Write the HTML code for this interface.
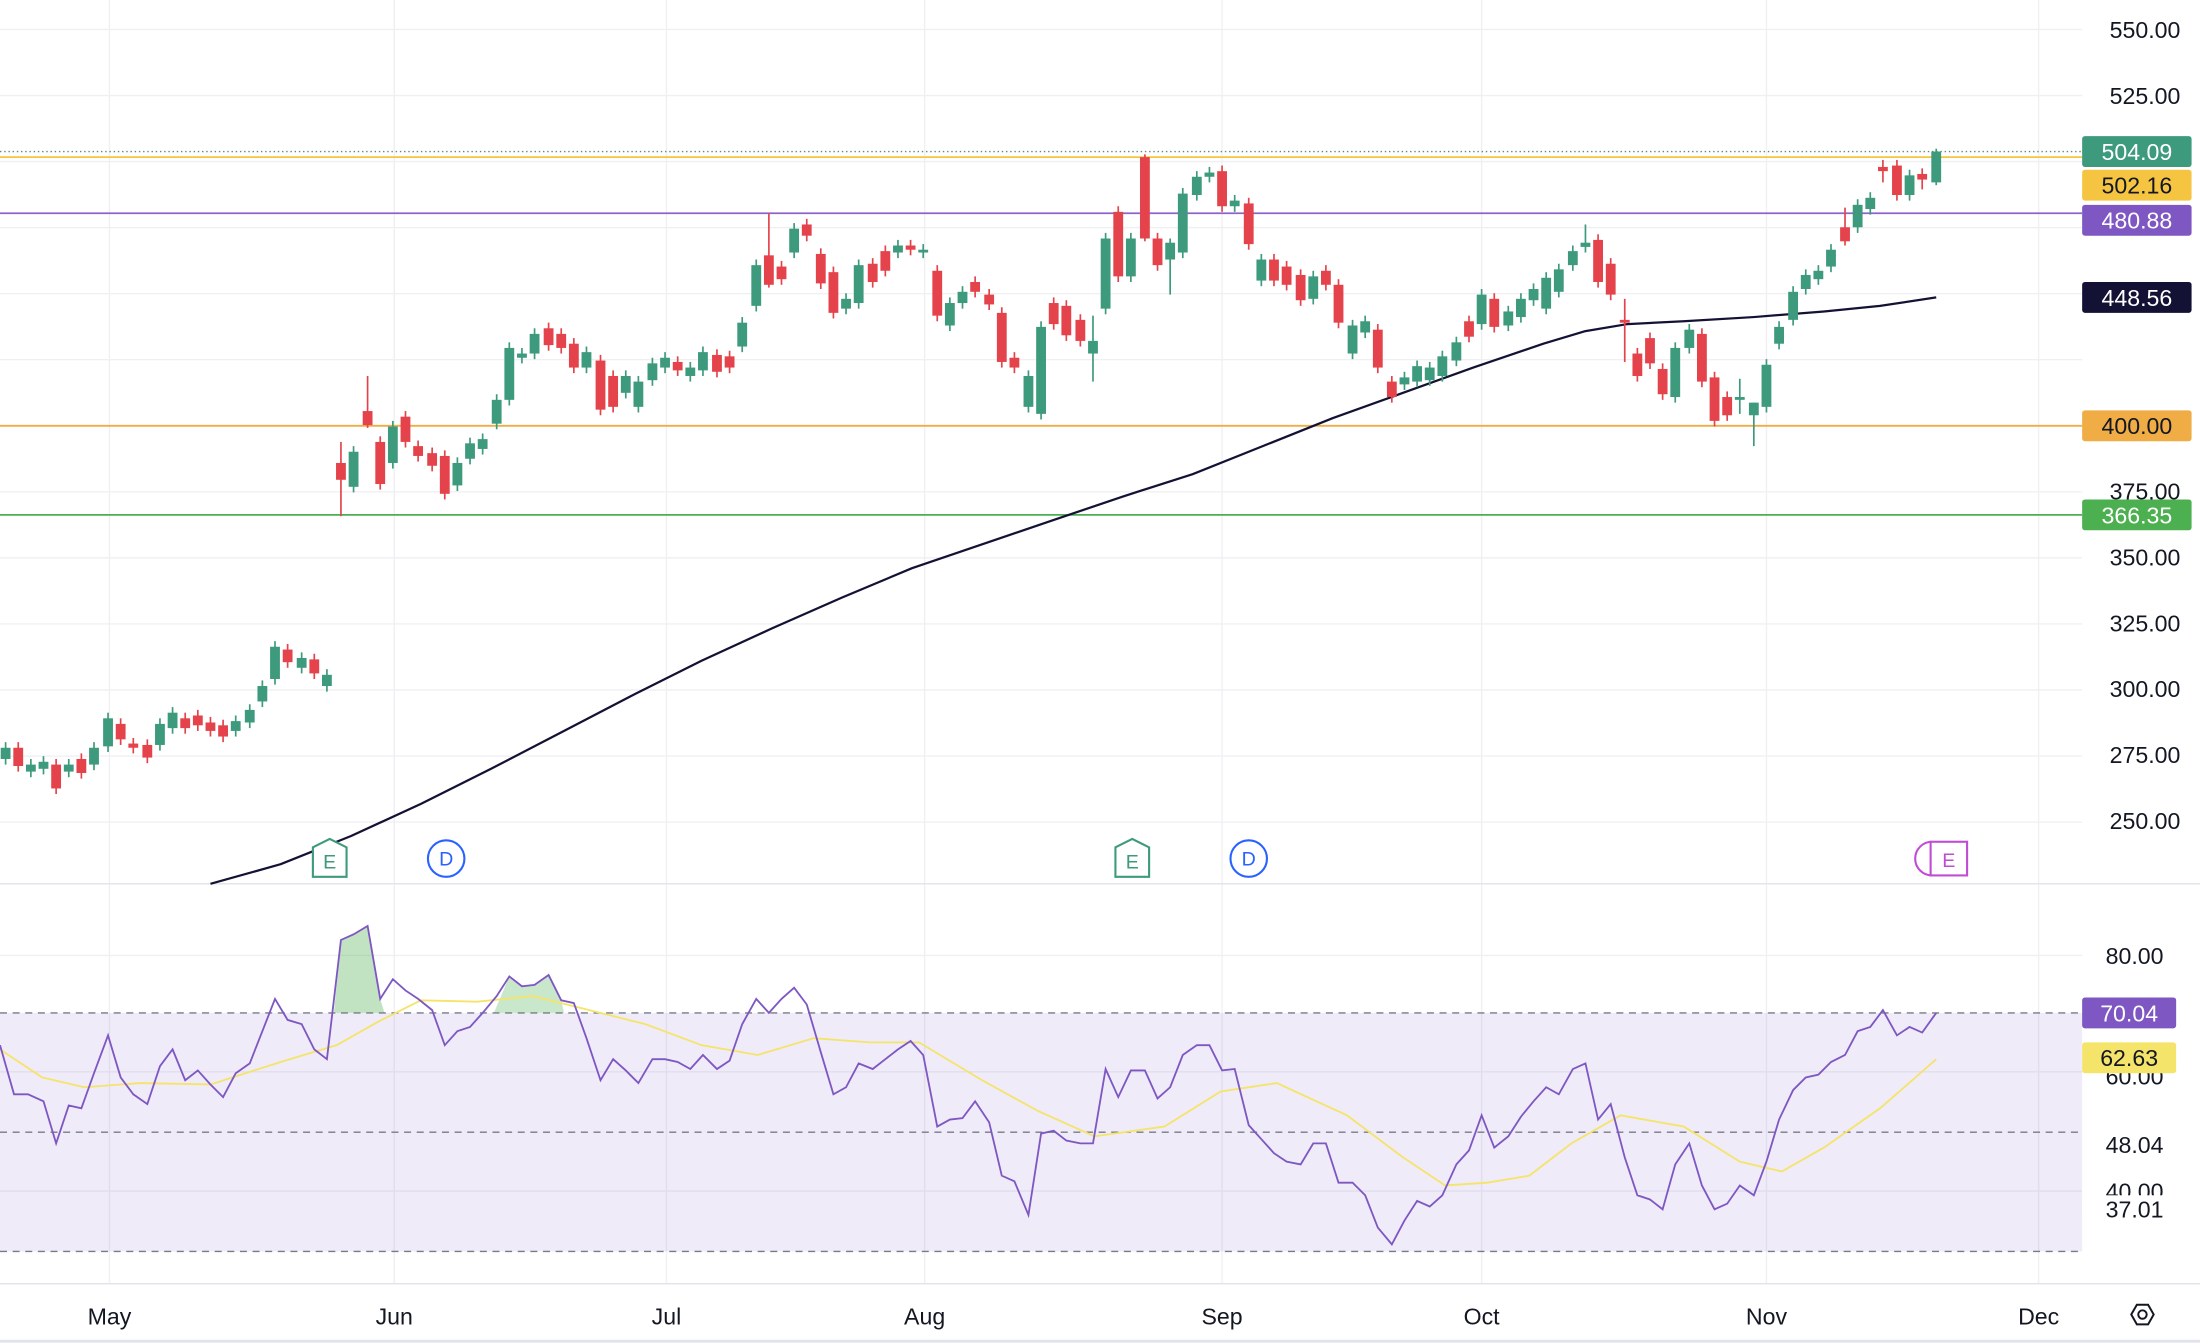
<!DOCTYPE html>
<html><head><meta charset="utf-8"><style>
html,body{margin:0;padding:0;background:#fff;}
svg{display:block;}
text{font-family:"Liberation Sans",sans-serif;}
</style></head><body>
<svg id="s" width="2200" height="1344" viewBox="0 0 1568 958" preserveAspectRatio="none" xmlns="http://www.w3.org/2000/svg">
<rect width="1568" height="958" fill="#fff"/>
<g id="grid" stroke="#f0f0f3" stroke-width="1"></g>
<rect x="0" y="722" width="1484" height="170" fill="#7e57c2" fill-opacity="0.12"/>
<g id="lines"></g>
<g id="candles"></g>
<g id="rsi"></g>
<g id="labels"></g>
</svg>
<script>
const NS="http://www.w3.org/2000/svg";
function el(p,t,a,txt){const e=document.createElementNS(NS,t);for(const k in a)e.setAttribute(k,a[k]);if(txt!==undefined)e.textContent=txt;p.appendChild(e);return e;}
const g=id=>document.getElementById(id);
const yp=p=>21+(550-p)*1.8833;
[78,281,475,659,871,1056,1259,1453].forEach(x=>el(g('grid'),'line',{x1:x,y1:0,x2:x,y2:915}));
for(let p=250;p<=550;p+=25)el(g('grid'),'line',{x1:0,y1:yp(p),x2:1484,y2:yp(p)});
[681,764,849].forEach(y=>el(g('grid'),'line',{x1:0,y1:y,x2:1484,y2:y}));
const L=g('lines');
el(L,'line',{x1:0,y1:630,x2:1568,y2:630,stroke:'#e0e3eb','stroke-width':1});
el(L,'line',{x1:0,y1:915,x2:1568,y2:915,stroke:'#e0e3eb','stroke-width':1});
el(L,'line',{x1:0,y1:956,x2:1568,y2:956,stroke:'#e0e3eb','stroke-width':2});
[722,807,892].forEach(y=>el(L,'line',{x1:0,y1:y,x2:1484,y2:y,stroke:'#787b86','stroke-dasharray':'5,4','stroke-width':1}));
el(L,'line',{x1:0,y1:108,x2:1484,y2:108,stroke:'#5a8a7a','stroke-dasharray':'1,2','stroke-width':1});
el(L,'line',{x1:0,y1:112,x2:1484,y2:112,stroke:'#f5c542','stroke-width':1.3});
el(L,'line',{x1:0,y1:152,x2:1484,y2:152,stroke:'#8e63c9','stroke-width':1.3});
el(L,'line',{x1:0,y1:303.5,x2:1484,y2:303.5,stroke:'#f0ad45','stroke-width':1.3});
el(L,'line',{x1:0,y1:367,x2:1484,y2:367,stroke:'#4caf50','stroke-width':1.3});
const SMA=[[150,630],[200,616],[250,596],[300,573],[350,548],[400,522],[450,496],[500,471],[550,448],[600,426],[650,405],[700,388],[750,371],[800,354],[850,338],[900,318],[950,298],[1000,280],[1050,262],[1100,245],[1130,236],[1160,231],[1200,229],[1250,226],[1300,222],[1340,218],[1380,212]];
el(L,'polyline',{points:SMA.map(p=>p.join(',')).join(' '),fill:'none',stroke:'#131235','stroke-width':1.6,'stroke-linejoin':'round'});
const C=[[4,533,541,'g'],[13,533,546,'r'],[22,545,550,'g'],[31,543,548,'g'],[40,545,562,'r'],[49,545,550,'g'],[58,541,551,'r'],[67,533,545,'g'],[77,512,532,'g'],[86,516,527,'r'],[95,530,533,'r'],[105,531,540,'r'],[114,516,531,'g'],[123,508,519,'g'],[132,512,519,'r'],[141,510,517,'r'],[150,515,521,'r'],[159,517,525,'r'],[168,514,521,'g'],[178,506,515,'g'],[187,489,500,'g'],[196,461,484,'g'],[205,463,472,'r'],[215,469,476,'g'],[224,470,480,'r'],[233,481,489,'g'],
[243,330,342,'r',315,368],[252,322,347,'g'],[262,293,303,'r',268,305],[271,315,345,'r'],[280,304,330,'g'],[289,297,315,'r'],[298,318,325,'r'],[308,323,332,'r'],[317,325,352,'r'],[326,330,346,'g'],[335,316,327,'g'],[344,313,320,'g'],[354,285,302,'g'],[363,248,285,'g'],[372,252,255,'g'],[381,238,252,'g'],[391,234,246,'r'],[400,238,248,'r'],[409,245,262,'r'],[418,251,262,'g'],[428,257,292,'r'],[437,268,290,'r'],[446,268,280,'g'],[455,272,290,'g'],[465,259,271,'g'],[474,255,262,'g'],[483,258,264,'r'],[492,262,268,'g'],[501,251,264,'g'],[511,253,265,'r'],[520,254,262,'r'],[529,230,247,'g'],[539,189,218,'g'],[548,182,203,'r',152,205],[557,190,199,'r'],[566,163,180,'g'],[575,160,168,'r'],[585,181,202,'r'],[594,194,223,'r'],[603,213,220,'g'],[612,189,216,'g'],[622,188,201,'r'],[631,179,193,'r'],[640,175,180,'g'],[649,175,178,'r'],[658,178,180,'g'],[668,193,225,'r'],[677,216,232,'g'],[686,208,216,'g'],[695,201,208,'r'],[705,210,217,'r'],[714,223,258,'r'],[723,255,262,'r'],[733,268,290,'g'],[742,233,295,'g'],[751,216,231,'r'],[760,218,239,'r'],[770,228,243,'r'],[779,243,252,'g',225,272],[788,170,220,'g'],[797,151,197,'r'],[806,170,197,'g'],[816,112,170,'r',110,172],[825,170,189,'r'],[834,173,185,'g',170,210],[843,138,180,'g'],[853,126,139,'g'],[862,123,126,'g'],[871,122,147,'r'],[880,143,147,'g'],[890,145,174,'r'],[899,185,200,'g'],[908,185,200,'r'],[917,190,203,'r'],[927,196,214,'r'],[936,197,213,'g'],[945,193,203,'r'],[954,203,230,'r'],[964,232,252,'g'],[973,229,237,'g'],[982,235,262,'r'],[992,272,283,'r'],[1001,269,274,'g'],[1010,261,272,'g'],[1019,262,271,'g'],[1028,254,268,'g'],[1038,244,257,'g'],[1047,229,240,'r'],[1056,210,231,'g'],[1065,213,233,'r'],[1075,222,232,'g'],[1084,213,226,'g'],[1093,206,214,'g'],[1102,198,220,'g'],[1111,192,208,'g'],[1121,179,189,'g'],[1130,173,176,'g',160,180],[1139,171,201,'r'],[1148,188,210,'r'],[1158,228,230,'r',213,258],[1167,252,268,'r'],[1176,241,259,'r'],[1185,263,281,'r'],[1194,248,283,'g'],[1204,235,248,'g'],[1213,238,272,'r'],[1222,269,300,'r'],[1231,283,296,'r'],[1240,283,285,'g',270,295],[1250,287,296,'g',287,318],[1259,260,290,'g'],[1268,233,245,'g'],[1278,208,228,'g'],[1287,196,206,'g'],[1296,193,199,'g'],[1305,178,190,'g'],[1315,162,172,'r',148,175],[1324,146,162,'g'],[1333,141,149,'g'],[1342,119,122,'r',114,130],[1352,118,139,'r'],[1361,125,139,'g'],[1370,124,128,'r',120,135],[1380,108,130,'g',106,132]];
const CG=g('candles');
C.forEach(c=>{const col=c[3]=='g'?'#3d9a7c':'#e5434c';const wt=c[4]!==undefined?c[4]:c[1]-4,wb=c[5]!==undefined?c[5]:c[2]+4;
el(CG,'line',{x1:c[0],y1:wt,x2:c[0],y2:wb,stroke:col,'stroke-width':1.2});
el(CG,'rect',{x:c[0]-3.5,y:c[1],width:7,height:Math.max(1.5,c[2]-c[1]),fill:col});});
const R=[[0,745],[10,780],[20,780],[31,785],[40,815],[49,788],[58,790],[67,765],[77,738],[86,768],[95,780],[105,787],[114,760],[123,748],[132,770],[141,763],[150,773],[159,782],[168,765],[178,758],[187,735],[196,712],[205,727],[215,730],[224,748],[233,755],[243,670],[252,666],[262,660],[271,712],[280,698],[289,706],[298,712],[308,720],[317,745],[326,735],[335,732],[344,722],[354,710],[363,696],[372,703],[381,702],[391,695],[400,713],[409,715],[418,740],[428,770],[437,755],[446,763],[455,772],[465,755],[474,755],[483,757],[492,762],[501,752],[511,762],[520,756],[529,730],[539,712],[548,722],[557,712],[566,704],[575,716],[585,750],[594,780],[603,775],[612,758],[622,762],[631,755],[640,748],[649,742],[658,752],[668,803],[677,798],[686,797],[695,785],[705,800],[714,838],[723,842],[733,866],[742,808],[751,806],[760,813],[770,815],[779,815],[788,762],[797,782],[806,763],[816,763],[825,783],[834,775],[843,752],[853,745],[862,745],[871,763],[880,762],[890,802],[899,812],[908,822],[917,828],[927,830],[936,815],[945,815],[954,843],[964,843],[973,852],[982,875],[992,887],[1001,870],[1010,856],[1019,860],[1028,852],[1038,830],[1047,820],[1056,795],[1065,818],[1075,810],[1084,796],[1093,785],[1102,775],[1111,780],[1121,762],[1130,758],[1139,798],[1148,787],[1158,825],[1167,852],[1176,855],[1185,862],[1194,830],[1204,815],[1213,845],[1222,862],[1231,858],[1240,845],[1250,852],[1259,828],[1268,798],[1278,777],[1287,768],[1296,766],[1305,757],[1315,752],[1324,735],[1333,732],[1342,720],[1352,738],[1361,732],[1370,736],[1380,722]];
const Y=[[0,748],[30,768],[60,775],[100,772],[150,773],[200,757],[240,745],[270,728],[300,713],[340,714],[380,710],[420,720],[460,730],[500,745],[540,752],[580,740],[620,743],[655,743],[700,770],[740,792],[780,810],[830,803],[870,778],[910,772],[960,795],[1000,825],[1030,845],[1060,843],[1090,838],[1120,815],[1155,795],[1200,803],[1240,828],[1270,835],[1300,818],[1340,790],[1380,755]];
const RG=g('rsi');
el(RG,'path',{d:'M238,722 L243,670 L252,666 L262,660 L271,712 L274,722 Z',fill:'#4caf50','fill-opacity':0.35});
el(RG,'path',{d:'M352,722 L363,696 L372,703 L381,702 L391,695 L400,713 L402,722 Z',fill:'#4caf50','fill-opacity':0.3});
el(RG,'polyline',{points:Y.map(p=>p.join(',')).join(' '),fill:'none',stroke:'#f5e46a','stroke-width':1.3});
el(RG,'polyline',{points:R.map(p=>p.join(',')).join(' '),fill:'none',stroke:'#7e57c2','stroke-width':1.3});
const LB=g('labels');
[[550,21],[525,68],[375,350],[350,397],[325,444],[300,491],[275,538],[250,585]].forEach(a=>el(LB,'text',{x:1554,y:a[1]+6,'font-size':16.5,'text-anchor':'end',fill:'#131722'},a[0].toFixed(2)));
el(LB,'text',{x:1542,y:687,'font-size':16.5,'text-anchor':'end',fill:'#131722'},'80.00');
el(LB,'text',{x:1542,y:773,'font-size':16.5,'text-anchor':'end',fill:'#131722'},'60.00');
el(LB,'text',{x:1542,y:822,'font-size':16.5,'text-anchor':'end',fill:'#131722'},'48.04');
el(LB,'text',{x:1542,y:855,'font-size':16.5,'text-anchor':'end',fill:'#131722'},'40.00');
el(LB,'rect',{x:1484,y:852,width:84,height:20,fill:'#fff'});
el(LB,'text',{x:1542,y:868,'font-size':16.5,'text-anchor':'end',fill:'#131722'},'37.01');
function box(y,txt,bg,fg,x0,w){el(LB,'rect',{x:x0||1484,y:y-11,width:w||78,height:22,rx:2,fill:bg});el(LB,'text',{x:(x0||1484)+(w||78)/2,y:y+6,'font-size':16.5,'text-anchor':'middle',fill:fg},txt);}
box(108,'504.09','#3d9a7c','#fff');box(132,'502.16','#f5c542','#131722');box(157,'480.88','#7e57c2','#fff');
box(212,'448.56','#131235','#fff');box(303.5,'400.00','#f0ad45','#131722');box(367,'366.35','#4caf50','#fff');
box(722,'70.04','#7e57c2','#fff',1484,67);box(754,'62.63','#f5e46a','#131722',1484,67);
[[78,'May'],[281,'Jun'],[475,'Jul'],[659,'Aug'],[871,'Sep'],[1056,'Oct'],[1259,'Nov'],[1453,'Dec']].forEach(a=>el(LB,'text',{x:a[0],y:944,'font-size':16.5,'text-anchor':'middle',fill:'#131722'},a[1]));
el(LB,'path',{d:'M1519,937 L1523,930 L1531,930 L1535,937 L1531,944 L1523,944 Z',fill:'none',stroke:'#131722','stroke-width':1.4});
el(LB,'circle',{cx:1527,cy:937,r:3,fill:'none',stroke:'#131722','stroke-width':1.4});
function emark(x,col){el(LB,'path',{d:`M${x-12},${604} L${x},${598} L${x+12},${604} L${x+12},${625} L${x-12},${625} Z`,fill:'#fff',stroke:col,'stroke-width':1.5});el(LB,'text',{x:x,y:619,'font-size':14,'text-anchor':'middle',fill:col},'E');}
function dmark(x){el(LB,'circle',{cx:x,cy:612,r:13,fill:'#fff',stroke:'#2962ff','stroke-width':1.5});el(LB,'text',{x:x,y:617,'font-size':14,'text-anchor':'middle',fill:'#2962ff'},'D');}
emark(235,'#3d9a7c');dmark(318);emark(807,'#3d9a7c');dmark(890);
el(LB,'path',{d:'M1377,600 A12,12 0 0,0 1377,624',fill:'none',stroke:'#c04cd6','stroke-width':1.5});
el(LB,'rect',{x:1376,y:600,width:26,height:24,fill:'#fff',stroke:'#c04cd6','stroke-width':1.5});
el(LB,'text',{x:1389,y:618,'font-size':14,'text-anchor':'middle',fill:'#c04cd6'},'E');
</script>
</body></html>
